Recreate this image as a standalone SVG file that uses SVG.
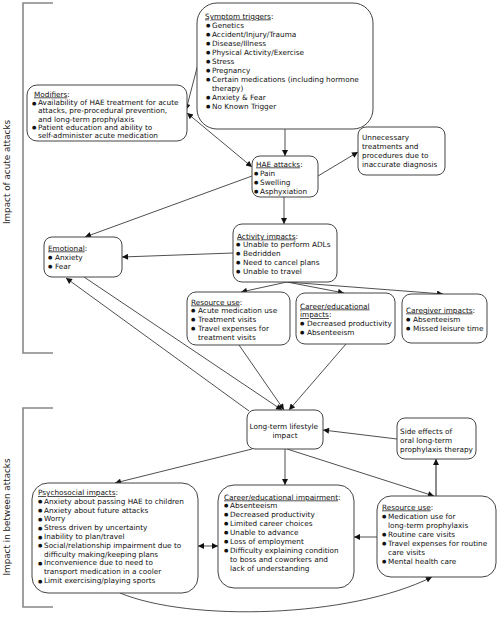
<svg xmlns="http://www.w3.org/2000/svg" width="500" height="617" viewBox="0 0 500 617">
<defs>
<marker id="ah" viewBox="0 0 10 10" refX="10" refY="5" markerWidth="7.5" markerHeight="6" markerUnits="userSpaceOnUse" orient="auto-start-reverse">
<path d="M0,0 L10,5 L0,10 z" fill="#111"/>
</marker>
<style>
.bx{fill:#fff;stroke:#444;stroke-width:1}
.t{font-family:"DejaVu Sans",Verdana,sans-serif;font-size:7.3px;fill:#111}
.b{font-size:5px}
.u{text-decoration:underline}
.c{stroke:#222;stroke-width:0.8;fill:none}
.br{stroke:#888;stroke-width:1.6;fill:none}
.lab{font-family:"DejaVu Sans",Verdana,sans-serif;font-size:8.8px;fill:#222}
</style>
</defs>
<rect width="500" height="617" fill="#fff"/>

<g id="brackets">
<polyline class="br" points="53,3 23,3 23,353 53,353"/>
<polyline class="br" points="53,408 23,408 23,607 53,607"/>
<text class="lab" transform="translate(10,172) rotate(-90)" text-anchor="middle">Impact of acute attacks</text>
<text class="lab" transform="translate(10,517) rotate(-90)" text-anchor="middle">Impact in between attacks</text>
</g>

<g id="connectors">
<path class="c" d="M285,129 L285,156" marker-end="url(#ah)"/>
<path class="c" d="M198,64 L186,110" marker-end="url(#ah)"/>
<path class="c" d="M187,113 L252,167" marker-start="url(#ah)" marker-end="url(#ah)"/>
<path class="c" d="M252,176 L85,237" marker-end="url(#ah)"/>
<path class="c" d="M318,176 L358,152" marker-end="url(#ah)"/>
<path class="c" d="M284,197 L284,224" marker-end="url(#ah)"/>
<path class="c" d="M233,253 L122,257" marker-end="url(#ah)"/>
<path class="c" d="M287,282 L241,292" marker-end="url(#ah)"/>
<path class="c" d="M287,282 L344,293" marker-end="url(#ah)"/>
<path class="c" d="M287,282 L443,294" marker-end="url(#ah)"/>
<path class="c" d="M239,345 L284,410" marker-end="url(#ah)"/>
<path class="c" d="M346,344 L289,410" marker-end="url(#ah)"/>
<path class="c" d="M84,277 L282,410" marker-end="url(#ah)"/>
<path class="c" d="M249,411 L66,278" marker-end="url(#ah)"/>
<path class="c" d="M252,449 L115,483" marker-end="url(#ah)"/>
<path class="c" d="M285,449 L285,485" marker-end="url(#ah)"/>
<path class="c" d="M287,449 L434,496" marker-end="url(#ah)"/>
<path class="c" d="M436,496 L436,459" marker-end="url(#ah)" style="stroke:#666;stroke-width:1.5"/>
<path class="c" d="M397,439 L323,430" marker-end="url(#ah)"/>
<path class="c" d="M377,537 L354,537" marker-end="url(#ah)"/>
<path class="c" d="M198,546 L218,546" marker-start="url(#ah)" marker-end="url(#ah)"/>
<path class="c" d="M120,593 C190,622 350,618 432,577" marker-end="url(#ah)"/>
</g>

<g id="symptom-triggers">
<rect class="bx" x="197" y="3" width="176" height="126" rx="20"/>
<text class="t"><tspan x="205" y="18.5" class="u">Symptom triggers</tspan><tspan>:</tspan></text>
<text class="t">
<tspan x="206" y="27" class="b">●</tspan><tspan x="212" y="27.5">Genetics</tspan>
<tspan x="206" y="36" class="b">●</tspan><tspan x="212" y="36.5">Accident/Injury/Trauma</tspan>
<tspan x="206" y="45" class="b">●</tspan><tspan x="212" y="45.5">Disease/Illness</tspan>
<tspan x="206" y="54" class="b">●</tspan><tspan x="212" y="54.5">Physical Activity/Exercise</tspan>
<tspan x="206" y="63" class="b">●</tspan><tspan x="212" y="63.5">Stress</tspan>
<tspan x="206" y="72" class="b">●</tspan><tspan x="212" y="72.5">Pregnancy</tspan>
<tspan x="206" y="81" class="b">●</tspan><tspan x="212" y="81.5">Certain medications (including  hormone</tspan>
<tspan x="212" y="90.5">therapy)</tspan>
<tspan x="206" y="99" class="b">●</tspan><tspan x="212" y="99.5">Anxiety &amp; Fear</tspan>
<tspan x="206" y="108" class="b">●</tspan><tspan x="212" y="108.5">No Known Trigger</tspan>
</text>
</g>

<g id="modifiers">
<rect class="bx" x="27" y="85" width="160" height="56" rx="10"/>
<text class="t"><tspan x="34" y="96.5" class="u">Modifiers</tspan><tspan>:</tspan></text>
<text class="t">
<tspan x="32" y="104.5" class="b">●</tspan><tspan x="38" y="105">Availability of HAE treatment for acute</tspan>
<tspan x="38" y="113.3">attacks, pre-procedural prevention,</tspan>
<tspan x="38" y="121.6">and long-term prophylaxis</tspan>
<tspan x="32" y="129.4" class="b">●</tspan><tspan x="38" y="129.9">Patient education and ability to</tspan>
<tspan x="38" y="138.2">self-administer acute medication</tspan>
</text>
</g>

<g id="hae-attacks">
<rect class="bx" x="252" y="156" width="66" height="41" rx="8"/>
<text class="t"><tspan x="256" y="166.5" class="u">HAE attacks</tspan><tspan>:</tspan></text>
<text class="t">
<tspan x="254" y="175" class="b">●</tspan><tspan x="260" y="175.5">Pain</tspan>
<tspan x="254" y="184" class="b">●</tspan><tspan x="260" y="184.5">Swelling</tspan>
<tspan x="254" y="193" class="b">●</tspan><tspan x="260" y="193.5">Asphyxiation</tspan>
</text>
</g>

<g id="unnecessary">
<rect class="bx" x="358" y="127" width="87" height="48" rx="8"/>
<text class="t">
<tspan x="362" y="139.5">Unnecessary</tspan>
<tspan x="362" y="148.5">treatments and</tspan>
<tspan x="362" y="157.5">procedures due to</tspan>
<tspan x="362" y="166.5">inaccurate diagnosis</tspan>
</text>
</g>

<g id="activity-impacts">
<rect class="bx" x="233" y="224" width="104" height="58" rx="9"/>
<text class="t"><tspan x="237" y="238.5" class="u">Activity impacts</tspan><tspan>:</tspan></text>
<text class="t">
<tspan x="236" y="246" class="b">●</tspan><tspan x="243" y="246.5">Unable to perform ADLs</tspan>
<tspan x="236" y="255" class="b">●</tspan><tspan x="243" y="255.5">Bedridden</tspan>
<tspan x="236" y="264" class="b">●</tspan><tspan x="243" y="264.5">Need to cancel plans</tspan>
<tspan x="236" y="273" class="b">●</tspan><tspan x="243" y="273.5">Unable to travel</tspan>
</text>
</g>

<g id="emotional">
<rect class="bx" x="44" y="237" width="78" height="40" rx="8"/>
<text class="t"><tspan x="48" y="250.5" class="u">Emotional</tspan><tspan>:</tspan></text>
<text class="t">
<tspan x="48" y="259" class="b">●</tspan><tspan x="55" y="259.5">Anxiety</tspan>
<tspan x="48" y="268" class="b">●</tspan><tspan x="55" y="268.5">Fear</tspan>
</text>
</g>

<g id="resource-use-acute">
<rect class="bx" x="187" y="292" width="103" height="53" rx="9"/>
<text class="t"><tspan x="191" y="304.5" class="u">Resource use</tspan><tspan>:</tspan></text>
<text class="t">
<tspan x="191" y="312" class="b">●</tspan><tspan x="198" y="312.5">Acute medication use</tspan>
<tspan x="191" y="321" class="b">●</tspan><tspan x="198" y="321.5">Treatment visits</tspan>
<tspan x="191" y="330" class="b">●</tspan><tspan x="198" y="330.5">Travel expenses for</tspan>
<tspan x="198" y="339.5">treatment visits</tspan>
</text>
</g>

<g id="career-impacts">
<rect class="bx" x="296" y="293" width="99" height="51" rx="9"/>
<text class="t"><tspan x="300" y="308.5" class="u">Career/educational</tspan></text>
<text class="t"><tspan x="300" y="317" class="u">impacts</tspan><tspan>:</tspan></text>
<text class="t">
<tspan x="300" y="325" class="b">●</tspan><tspan x="307" y="325.5">Decreased productivity</tspan>
<tspan x="300" y="334" class="b">●</tspan><tspan x="307" y="334.5">Absenteeism</tspan>
</text>
</g>

<g id="caregiver-impacts">
<rect class="bx" x="402" y="294" width="85" height="49" rx="9"/>
<text class="t"><tspan x="406" y="312.5" class="u">Caregiver impacts</tspan><tspan>:</tspan></text>
<text class="t">
<tspan x="406" y="321" class="b">●</tspan><tspan x="413" y="321.5">Absenteeism</tspan>
<tspan x="406" y="330" class="b">●</tspan><tspan x="413" y="330.5">Missed leisure time</tspan>
</text>
</g>

<g id="long-term-impact">
<rect class="bx" x="247" y="410" width="76" height="39" rx="8"/>
<text class="t" text-anchor="middle">
<tspan x="285" y="428.5">Long-term lifestyle</tspan>
<tspan x="285" y="437.5">impact</tspan>
</text>
</g>

<g id="side-effects">
<rect class="bx" x="397" y="418" width="79" height="41" rx="8"/>
<text class="t">
<tspan x="400" y="433.5">Side effects of</tspan>
<tspan x="400" y="442.5">oral long-term</tspan>
<tspan x="400" y="451.5">prophylaxis therapy</tspan>
</text>
</g>

<g id="psychosocial">
<rect class="bx" x="32" y="483" width="166" height="110" rx="16"/>
<text class="t"><tspan x="38" y="495" class="u">Psychosocial impacts</tspan><tspan>:</tspan></text>
<text class="t">
<tspan x="38" y="503.3" class="b">●</tspan><tspan x="44" y="503.8">Anxiety about passing HAE to children</tspan>
<tspan x="38" y="512.1" class="b">●</tspan><tspan x="44" y="512.6">Anxiety about future attacks</tspan>
<tspan x="38" y="520.9" class="b">●</tspan><tspan x="44" y="521.4">Worry</tspan>
<tspan x="38" y="529.7" class="b">●</tspan><tspan x="44" y="530.2">Stress driven by uncertainty</tspan>
<tspan x="38" y="538.5" class="b">●</tspan><tspan x="44" y="539">Inability to plan/travel</tspan>
<tspan x="38" y="547.3" class="b">●</tspan><tspan x="44" y="547.8">Social/relationship impairment due to</tspan>
<tspan x="44" y="556.6">difficulty making/keeping plans</tspan>
<tspan x="38" y="564.9" class="b">●</tspan><tspan x="44" y="565.4">Inconvenience due to need to</tspan>
<tspan x="44" y="574.2">transport medication in a cooler</tspan>
<tspan x="38" y="582.5" class="b">●</tspan><tspan x="44" y="583">Limit exercising/playing sports</tspan>
</text>
</g>

<g id="career-impairment">
<rect class="bx" x="218" y="485" width="136" height="103" rx="16"/>
<text class="t"><tspan x="224" y="499.5" class="u">Career/educational impairment</tspan><tspan>:</tspan></text>
<text class="t">
<tspan x="224" y="507" class="b">●</tspan><tspan x="230" y="507.5">Absenteeism</tspan>
<tspan x="224" y="516" class="b">●</tspan><tspan x="230" y="516.5">Decreased productivity</tspan>
<tspan x="224" y="525" class="b">●</tspan><tspan x="230" y="525.5">Limited career choices</tspan>
<tspan x="224" y="534" class="b">●</tspan><tspan x="230" y="534.5">Unable to advance</tspan>
<tspan x="224" y="543" class="b">●</tspan><tspan x="230" y="543.5">Loss of employment</tspan>
<tspan x="224" y="552" class="b">●</tspan><tspan x="230" y="552.5">Difficulty explaining condition</tspan>
<tspan x="230" y="561.5">to boss and coworkers and</tspan>
<tspan x="230" y="570.5">lack of understanding</tspan>
</text>
</g>

<g id="resource-use-longterm">
<rect class="bx" x="377" y="496" width="119" height="81" rx="14"/>
<text class="t"><tspan x="382" y="509.5" class="u">Resource use</tspan><tspan>:</tspan></text>
<text class="t">
<tspan x="382" y="518" class="b">●</tspan><tspan x="388" y="518.5">Medication use for</tspan>
<tspan x="388" y="527.5">long-term prophylaxis</tspan>
<tspan x="382" y="536" class="b">●</tspan><tspan x="388" y="536.5">Routine care visits</tspan>
<tspan x="382" y="545" class="b">●</tspan><tspan x="388" y="545.5">Travel expenses for routine</tspan>
<tspan x="388" y="554.5">care visits</tspan>
<tspan x="382" y="563" class="b">●</tspan><tspan x="388" y="563.5">Mental health care</tspan>
</text>
</g>
</svg>
